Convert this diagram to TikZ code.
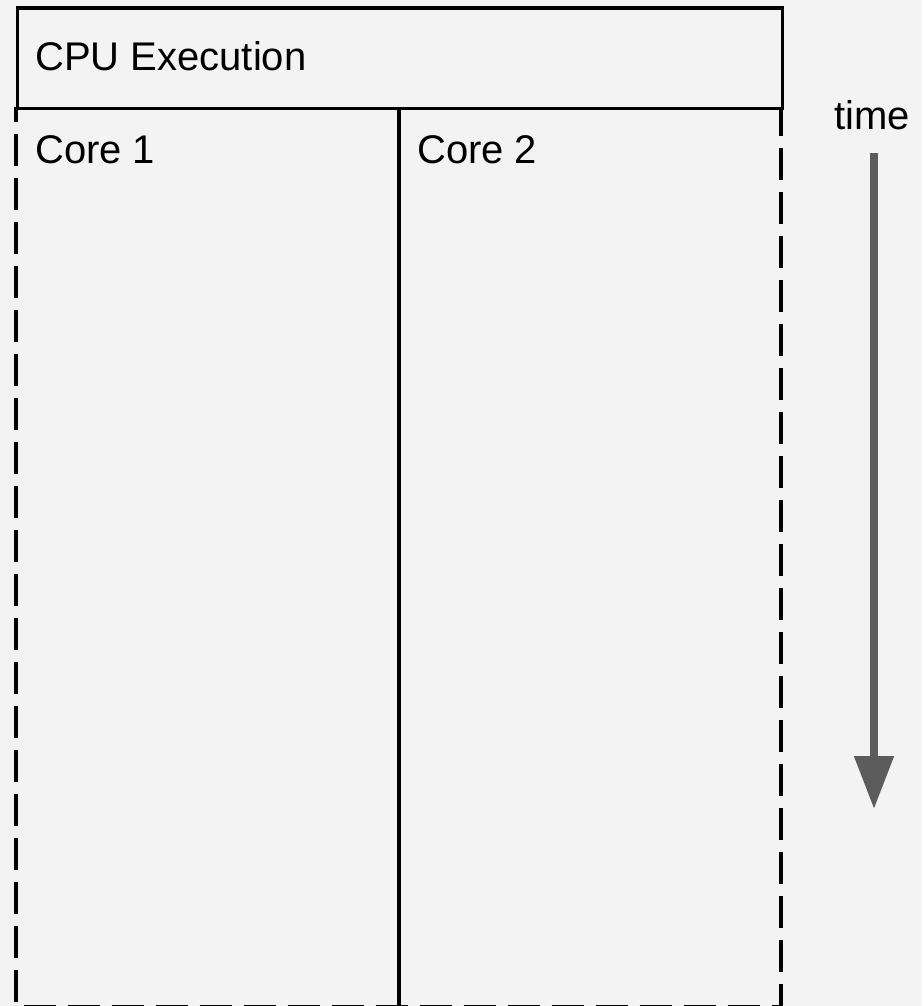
\documentclass[tikz,border=0pt]{standalone}
\usepackage{fontspec}
\setmainfont{Liberation Sans}
\usetikzlibrary{arrows.meta}
\definecolor{bg}{HTML}{F3F3F3}
\definecolor{arrowgray}{HTML}{5C5C5C}
\tikzset{
  lbl/.style={anchor=base west, inner sep=0pt, font=\fontsize{40}{48}\selectfont},
  boxline/.style={line width=3.2pt, draw=black},
  dashline/.style={line width=3.2pt, draw=black, dash pattern=on 32pt off 12pt, dash phase=17pt},
  timearrow/.style={line width=8pt, draw=arrowgray, -{Triangle[length=53pt,width=38pt]}}
}
\begin{document}
\begin{tikzpicture}[x=1pt,y=-1pt]
\fill[bg] (0,0) rectangle (922,1006);
\useasboundingbox (0,0) rectangle (922,1006);
% dashed frame of the core area
\coordinate (dl) at (16,107);
\coordinate (dbl) at (16,1006.5);
\coordinate (dbr) at (781,1006.5);
\coordinate (dr) at (781,107);
\draw[dashline] (dl) -- (dbl) -- (dbr) -- (dr);
% divider between cores
\coordinate (mt) at (399,107);
\coordinate (mb) at (399,1006.5);
\draw[boxline] (mt) -- (mb);
% CPU execution header box
\node[boxline, fill=bg, minimum width=765pt, minimum height=100.5pt, inner sep=0pt, anchor=north west] (cpu) at (16,6.5) {};
\node[lbl] (cputxt) at (35,71) {CPU Execution};
\node[lbl] (core1) at (35,164) {Core 1};
\node[lbl] (core2) at (417,164) {Core 2};
\node[lbl] (time) at (834,130) {time};
% time arrow
\coordinate (ts) at (874,153);
\coordinate (te) at (874,809);
\draw[timearrow] (ts) -- (te);
\end{tikzpicture}
\end{document}
